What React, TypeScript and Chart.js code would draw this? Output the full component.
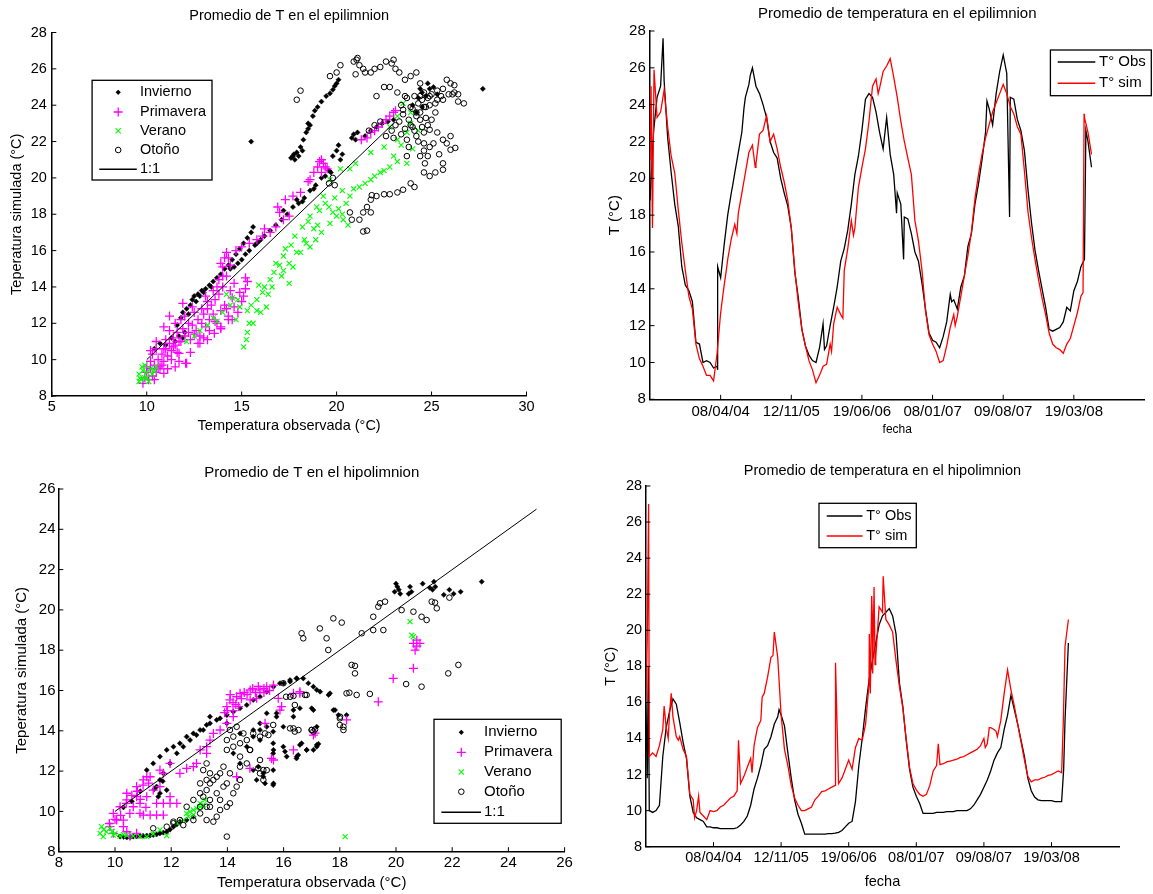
import React, { useEffect, useRef } from "react";
import { Chart, registerables } from "chart.js";

Chart.register(...registerables);

const FONT = "'Liberation Sans', Arial, Helvetica, sans-serif";
const MAGENTA = "#ff00ff";
const GREEN = "#00ff00";

// ---------------- time axis ----------------
const fechaLabels = ["08/04/04", "12/11/05", "19/06/06", "08/01/07", "09/08/07", "19/03/08"];
const STEP = 0.05; // spacing of the sampled series along the date axis

// ---------------- epilimnion series ----------------
const epiObs = [
  18.8, 22.5, 24.4, 25.0, 25.3, 22.2, 20.3, 18.6, 17.4, 15.2, 14.2, 13.9, 13.3, 11.1, 11.0, 10.0, 10.1, 10.0, 9.7, 9.8,
  14.6, 16.4, 18.0, 19.2, 20.3, 21.4, 22.5, 24.4, 25.1, 26.0, 25.0, 24.6, 24.0, 23.3, 22.0, 21.4, 21.1, 20.0, 19.2, 18.5,
  17.3, 14.9, 13.5, 11.8, 10.9, 10.4, 10.1, 10.0, 10.8, 12.1, 10.9, 12.0, 13.0, 14.1, 15.5, 16.2, 17.2, 18.6, 20.2, 21.2,
  22.6, 24.3, 24.6, 24.4, 23.6, 22.5, 21.6, 23.3, 21.3, 20.2, 19.2, 18.6, 17.9, 17.8, 17.0, 16.0, 15.5, 14.3, 12.9, 11.6,
  11.2, 11.1, 10.8, 11.4, 12.2, 13.7, 13.4, 12.9, 14.1, 14.7, 16.3, 17.0, 18.6, 19.7, 21.0, 22.5, 23.8, 22.9, 24.6, 25.8,
  26.7, 25.7, 24.4, 24.3, 23.2, 22.6, 21.5, 19.4, 17.6, 16.1, 15.0, 14.0, 13.0, 11.8, 11.7, 11.8, 11.9, 12.2, 13.0, 12.8,
  13.9, 14.4, 15.2, 15.6, 22.0, 20.6,
];
const epiObsSpikes = [
  [0.185, 27.6], [0.955, 9.6], [0.96, 15.2], [1.17, 19.6], [1.33, 23.8], [1.42, 25.6], [2.47, 10.7],
  [3.49, 18.1], [3.59, 15.6], [4.27, 13.3], [4.77, 24.2], [5.09, 17.9], [6.17, 22.6],
];
const epiSim = [
  21.0, 23.0, 23.3, 23.6, 24.8, 22.8, 21.2, 20.3, 18.3, 16.5, 15.0, 13.6, 12.9, 11.0, 10.2, 9.8, 9.3, 9.3, 9.0, 10.5,
  12.7, 14.2, 15.6, 16.7, 17.5, 18.1, 19.2, 20.3, 21.4, 21.8, 20.8, 22.4, 22.6, 23.4, 22.0, 22.4, 21.6, 20.6, 19.8, 18.8,
  17.3, 15.0, 13.2, 11.8, 10.9, 10.1, 9.6, 8.9, 9.3, 9.8, 9.9, 11.0, 12.1, 13.0, 12.6, 15.0, 16.2, 17.7, 17.3, 19.5,
  20.6, 21.6, 23.1, 25.0, 25.4, 24.9, 25.8, 26.1, 26.5, 25.5, 24.4, 23.1, 22.0, 21.1, 20.2, 17.7, 16.6, 15.0, 12.8, 11.5,
  11.0, 10.6, 10.0, 10.1, 10.9, 11.9, 12.6, 12.5, 13.6, 14.7, 15.8, 17.1, 18.9, 20.2, 21.3, 22.2, 22.9, 23.6, 24.1, 24.6,
  25.1, 24.6, 23.9, 23.5, 22.8, 22.4, 20.4, 18.2, 16.8, 15.6, 14.5, 13.5, 12.6, 11.6, 11.0, 10.8, 10.7, 10.5, 11.0, 11.3,
  12.0, 12.7, 13.6, 23.3, 22.5, 21.3,
];
const epiSimSpikes = [
  [0.015, 25.0], [0.035, 17.3], [0.057, 25.9], [1.08, 15.0], [1.23, 17.0], [1.49, 20.6], [2.57, 10.6],
  [2.73, 12.4], [2.88, 16.9], [3.23, 24.6], [4.32, 12.0], [6.13, 13.8], [6.145, 23.5],
];

// ---------------- hipolimnion series ----------------
const hipoObs = [
  16.0, 10.0, 9.9, 10.0, 10.3, 13.0, 14.6, 15.5, 16.2, 15.9, 14.9, 13.8, 12.9, 10.8, 9.9, 9.6, 9.5, 9.4, 9.1, 9.1,
  9.05, 9.05, 9.0, 9.0, 9.0, 9.0, 9.0, 9.05, 9.2, 9.4, 9.7, 10.3, 11.2, 11.8, 12.5, 13.4, 13.6, 14.1, 14.8, 15.2,
  15.3, 14.7, 13.2, 11.8, 10.6, 9.8, 9.3, 8.7, 8.7, 8.7, 8.7, 8.7, 8.7, 8.7, 8.72, 8.72, 8.75, 8.8, 8.9, 9.1,
  9.3, 9.4, 10.5, 12.5, 14.0, 15.7, 17.2, 18.3, 19.3, 20.3, 20.8, 21.0, 21.2, 20.8, 19.8, 17.1, 15.8, 13.9, 12.3, 11.3,
  10.8, 10.4, 9.85, 9.85, 9.85, 9.85, 9.9, 9.9, 9.9, 9.95, 9.95, 9.95, 10.0, 10.0, 10.0, 10.0, 10.1, 10.3, 10.6, 10.9,
  11.3, 11.7, 12.2, 12.8, 13.2, 13.5, 14.5, 15.3, 16.4, 15.6, 14.8, 13.9, 13.0, 11.8, 11.1, 10.75, 10.6, 10.55, 10.55, 10.55,
  10.55, 10.5, 10.5, 10.5, 15.0, 19.3,
];
const hipoObsSpikes = [
  [0.02, 11.8], [0.035, 18.0], [1.97, 15.6], [6.18, 12.3],
];
const hipoSim = [
  16.0, 13.0, 13.2, 13.0, 13.6, 14.5, 14.6, 15.4, 15.2, 14.1, 14.1, 13.4, 13.0, 10.9, 10.6, 10.0, 9.9, 9.7, 9.5, 10.0,
  9.95, 10.0, 10.2, 10.3, 10.5, 10.7, 10.8, 11.1, 11.5, 11.9, 12.4, 12.9, 13.6, 14.6, 15.0, 16.5, 17.4, 18.5, 19.9, 18.5,
  15.3, 13.4, 12.5, 11.4, 10.7, 10.3, 10.0, 10.0, 10.1, 10.2, 10.6, 10.8, 11.05, 11.1, 11.2, 11.3, 11.4, 11.5, 11.8, 12.3,
  12.8, 12.3, 13.5, 14.0, 13.9, 14.8, 17.0, 20.8, 18.5, 21.3, 21.0, 20.6, 20.3, 19.9, 18.3, 16.9, 15.7, 14.0, 12.4, 11.5,
  11.15, 10.9, 10.8, 10.9, 11.4, 12.2, 12.5, 12.55, 12.6, 12.7, 12.75, 12.8, 12.85, 12.95, 13.0, 13.1, 13.2, 13.3, 13.4, 13.6,
  14.0, 13.7, 14.6, 14.5, 14.1, 15.0, 16.5, 17.8, 16.7, 15.8, 14.8, 13.8, 12.8, 11.9, 11.6, 11.7, 11.7, 11.8, 11.85, 11.95,
  12.0, 12.1, 12.2, 12.1, 19.1, 20.6,
];
const hipoSimSpikes = [
  [0.02, 19.5], [0.04, 27.0], [0.27, 15.8], [0.33, 14.0], [0.375, 16.5], [0.48, 13.9], [0.72, 9.6], [0.78, 10.8],
  [1.37, 13.9], [1.57, 12.1], [1.72, 16.3], [1.88, 18.6], [2.805, 18.2], [3.305, 19.8], [3.32, 16.5],
  [3.34, 21.9], [3.355, 17.6], [3.375, 22.4], [3.39, 18.1], [3.51, 23.0], [4.325, 13.7], [5.02, 13.5],
  [5.08, 14.6], [5.18, 14.4], [6.175, 15.0],
];

// ---------------- scatter: epilimnion ----------------
const epiInvierno = [
  [17.6, 21.1], [17.7, 21.2], [17.75, 21.3], [17.8, 21.0], [17.9, 21.4], [18.0, 21.2], [18.1, 21.7], [18.2, 21.5],
  [18.25, 22.1], [18.4, 22.5], [18.5, 22.7], [18.5, 23.0], [18.6, 22.9], [18.75, 23.4], [18.85, 23.7], [19.0, 23.9],
  [19.2, 24.2], [19.45, 24.5], [19.65, 24.65], [19.8, 24.85], [19.9, 25.05], [20.0, 25.2], [20.1, 25.4],
  [15.5, 22.0], [27.7, 24.9],
  [10.4, 10.6], [10.7, 10.9], [11.0, 10.8], [11.3, 11.2], [11.5, 11.0], [11.7, 11.3], [11.9, 11.2], [12.0, 11.5],
  [11.6, 11.9], [11.8, 12.3], [11.9, 12.6], [12.1, 12.8], [12.2, 12.5], [12.3, 13.0], [12.4, 13.3], [12.5, 13.5],
  [12.6, 13.2], [12.7, 13.6], [12.9, 13.8], [13.1, 13.9], [13.3, 14.1], [13.5, 14.3], [13.7, 14.5], [13.9, 14.7],
  [14.1, 15.0], [14.3, 15.2], [14.5, 15.5], [14.7, 15.8], [14.9, 16.1], [15.1, 16.4], [15.3, 16.7], [15.5, 17.0],
  [15.6, 17.3], [14.6, 15.1], [14.8, 15.3], [15.0, 15.5], [15.2, 15.8], [15.4, 16.0], [15.7, 16.3], [15.9, 16.5],
  [16.2, 16.8], [16.5, 17.1], [16.8, 17.4], [17.1, 17.7], [17.4, 18.0], [17.7, 18.4], [17.9, 18.8], [17.2, 18.2],
  [18.3, 18.9], [18.6, 19.3], [18.9, 19.6], [19.2, 20.0], [19.6, 20.4], [18.0, 18.6], [18.2, 18.7], [18.8, 19.4],
  [19.4, 20.1], [19.7, 20.3], [12.8, 13.5], [13.0, 13.7], [13.4, 14.0], [14.4, 15.0], [15.8, 16.4], [16.0, 16.6],
  [19.8, 21.2], [20.0, 21.5], [20.1, 21.8], [20.3, 21.3], [20.2, 21.0], [20.8, 22.2], [20.9, 22.4], [21.0, 22.1],
  [21.1, 22.5], [21.5, 22.3], [21.8, 22.6], [22.1, 22.8], [22.4, 23.0], [22.7, 23.1], [23.0, 23.2],
  [24.3, 24.4], [24.5, 24.7], [24.7, 24.5], [24.9, 24.9], [25.1, 25.0], [25.3, 24.6], [24.4, 24.9], [24.8, 25.2],
  [24.2, 23.6], [24.5, 23.9], [24.0, 24.0],
];
const epiPrimavera = [
  [9.8, 8.7], [9.9, 9.0], [10.0, 9.3], [10.1, 8.9], [10.2, 9.5], [10.3, 9.1], [10.4, 9.7], [10.5, 9.3], [10.6, 10.0],
  [10.7, 9.6], [10.8, 10.3], [10.9, 9.9], [11.0, 10.6], [11.1, 10.2], [11.2, 10.9], [11.3, 10.5], [11.4, 11.2],
  [11.5, 10.8], [11.6, 11.5], [11.7, 9.9], [11.8, 11.0], [11.9, 11.7], [12.0, 11.3], [12.1, 9.8], [12.2, 11.5],
  [12.3, 11.1], [12.4, 11.9], [12.6, 11.6], [12.7, 12.2], [12.8, 11.3], [12.9, 12.0], [13.0, 12.5], [13.1, 11.8],
  [13.2, 12.8], [13.3, 12.2], [13.4, 13.0], [13.5, 12.5], [13.6, 13.3], [13.7, 12.0], [13.8, 13.6], [13.9, 12.7],
  [14.0, 14.0], [14.1, 13.0], [14.2, 14.6], [14.3, 12.4], [14.4, 15.2], [14.5, 13.4], [14.1, 15.6], [14.6, 12.9],
  [15.1, 13.5], [15.2, 13.9], [15.3, 14.3], [14.9, 13.7], [10.2, 10.5], [10.5, 11.0], [10.9, 11.8], [11.2, 12.4],
  [11.5, 12.0], [11.9, 13.1], [12.4, 12.9], [13.1, 13.5], [13.7, 14.0], [14.0, 14.6], [10.4, 8.9], [10.9, 9.25],
  [11.5, 9.6], [12.05, 9.8], [11.7, 10.35], [12.8, 10.9], [13.2, 11.1], [13.56, 11.45], [13.9, 11.8], [14.3, 12.2],
  [10.0, 9.6], [10.2, 9.9], [10.3, 10.3], [10.5, 10.6], [10.6, 9.5], [10.8, 9.7], [10.9, 10.6], [11.0, 11.1],
  [11.1, 9.5], [11.2, 11.6], [11.3, 10.0], [11.4, 10.7], [11.6, 10.4], [11.7, 11.0], [11.8, 12.2], [12.0, 12.4],
  [12.2, 12.0], [12.3, 10.4], [12.5, 11.4], [12.5, 12.6], [12.7, 10.9], [12.9, 12.8], [13.0, 11.2], [13.2, 13.2],
  [13.3, 11.6], [13.5, 13.8], [13.6, 12.1], [13.8, 14.4], [13.9, 11.7], [14.0, 15.1], [14.2, 12.8], [14.3, 15.6],
  [14.4, 13.8], [14.5, 12.2], [14.6, 14.2], [14.8, 12.6], [15.0, 13.2], [15.2, 14.5], [14.2, 15.9], [13.9, 15.3],
  [14.7, 16.0], [15.0, 16.2], [15.4, 16.4], [15.8, 16.6], [16.1, 16.8], [16.5, 17.0], [16.8, 17.3], [17.2, 17.7],
  [17.5, 17.9], [16.2, 17.2], [16.9, 18.4], [17.3, 18.8], [17.7, 19.0], [18.1, 19.2], [17.0, 18.1],
  [18.5, 19.8], [18.6, 19.9], [18.8, 20.3], [19.0, 20.6], [19.1, 20.9], [19.2, 21.0], [19.3, 20.8], [19.4, 20.6],
  [19.5, 20.5], [19.2, 20.3], [21.3, 22.1], [21.6, 22.2], [21.8, 22.5], [22.0, 22.6], [22.2, 22.8], [22.4, 23.0],
  [22.6, 23.2], [22.8, 23.4], [23.0, 23.6], [23.1, 23.7],
];
const epiVerano = [
  [9.6, 9.2], [9.7, 8.9], [9.8, 9.4], [9.9, 9.0], [10.0, 9.3], [10.1, 8.8], [9.75, 9.6], [10.2, 9.5], [9.65, 9.0],
  [10.3, 9.2], [9.9, 9.7], [10.4, 9.4], [9.6, 8.8], [10.0, 9.0], [10.5, 9.6],
  [12.1, 11.0], [12.5, 11.3], [12.8, 11.6], [13.2, 11.9], [13.5, 12.3], [13.7, 12.1], [14.0, 12.6], [14.2, 13.6],
  [14.5, 13.4], [14.7, 12.2], [14.9, 12.9], [15.1, 10.7], [15.3, 11.5], [15.25, 11.1], [15.4, 12.0], [15.3, 12.7],
  [15.6, 12.0], [15.8, 13.3], [15.8, 12.7], [16.0, 12.6], [16.1, 13.7], [16.3, 12.9], [16.5, 14.4], [16.6, 14.0],
  [16.8, 15.3], [17.1, 14.6], [17.2, 14.9], [17.2, 15.7], [17.5, 15.3], [17.5, 14.2], [17.7, 15.1], [17.9, 15.9],
  [18.1, 15.9], [18.3, 16.6], [18.4, 16.4], [18.6, 16.2], [18.8, 17.2], [18.9, 16.6], [19.0, 17.4], [19.2, 17.0],
  [19.65, 17.5], [20.0, 17.9], [20.35, 17.7], [19.8, 18.1], [20.7, 19.0], [21.2, 19.5], [21.8, 19.9], [22.3, 20.3],
  [22.8, 20.6], [23.2, 20.9], [23.7, 20.8], [23.7, 22.5], [23.2, 22.1], [22.5, 21.7], [21.8, 21.4], [21.0, 20.8],
  [20.7, 20.5], [20.2, 20.5], [19.65, 19.9], [19.3, 19.0], [18.95, 18.4], [18.6, 17.9], [23.5, 24.1], [23.2, 23.4],
  [23.9, 23.0], [24.0, 21.6], [22.8, 22.8], [20.5, 18.6], [19.9, 18.9], [20.3, 19.3], [21.5, 19.7], [22.0, 20.1],
  [20.6, 17.4], [19.6, 18.4], [14.4, 13.0], [14.8, 13.3], [15.5, 13.0], [15.9, 14.1], [16.2, 14.0], [16.4, 13.6],
  [16.7, 14.8], [17.0, 15.2], [17.3, 16.1], [17.6, 16.3], [17.8, 16.8], [18.2, 17.3], [18.5, 17.6], [19.1, 18.2],
  [19.4, 18.6], [20.1, 18.3], [20.3, 18.0], [20.9, 19.4], [22.5, 20.4], [23.0, 21.2], [23.4, 21.8], [24.3, 22.6],
  [23.9, 23.6],
];
const epiOtono = [
  [17.9, 24.3], [18.1, 24.8], [19.65, 25.6], [20.0, 25.8], [20.2, 26.2], [21.05, 26.5], [21.2, 26.2], [21.4, 26.0],
  [21.8, 25.8], [22.3, 26.1], [22.6, 26.4], [23.0, 26.5], [23.3, 25.8], [23.9, 25.6], [24.2, 25.8], [24.4, 25.2],
  [24.6, 24.7], [24.9, 24.5], [25.3, 24.3], [25.6, 24.9], [26.0, 25.2], [26.2, 24.7], [26.4, 24.2], [22.5, 25.0],
  [22.8, 25.0], [22.1, 24.5], [23.2, 24.7], [23.5, 23.75], [23.9, 23.9], [24.2, 23.6], [24.0, 22.8], [24.4, 23.2],
  [24.7, 23.9], [24.6, 22.5], [24.9, 22.65], [25.3, 22.5], [25.6, 22.1], [26.0, 22.3], [24.9, 21.7], [24.6, 21.9],
  [24.2, 22.3], [23.7, 22.1], [24.4, 21.2], [24.65, 20.8], [24.6, 20.3], [24.9, 20.1], [25.6, 20.45], [26.0, 21.55],
  [23.7, 21.2], [24.1, 19.5], [23.9, 19.7], [23.5, 19.35], [23.2, 19.2], [22.8, 19.1], [22.5, 19.1], [22.1, 19.0],
  [21.8, 18.8], [21.6, 18.4], [21.8, 18.1], [21.4, 18.1], [21.2, 17.7], [21.6, 17.1], [21.4, 17.05], [20.7, 18.1],
  [20.8, 17.7], [21.85, 19.05], [26.7, 24.1], [26.25, 21.65], [25.2, 20.3], [25.6, 20.8], [24.8, 21.2],
  [23.5, 23.5], [23.8, 23.2], [24.0, 23.8], [24.2, 23.4], [24.4, 23.6], [24.6, 23.9], [24.3, 24.1], [23.9, 22.9],
  [24.1, 22.6], [24.5, 22.8], [24.7, 23.3], [23.6, 22.7], [23.3, 23.1], [24.8, 24.4], [25.0, 24.6], [25.3, 24.8],
  [23.1, 22.9], [22.9, 22.6], [23.4, 22.4], [19.6, 19.7], [19.8, 20.0], [19.9, 19.6], [22.0, 22.9], [22.3, 23.1],
  [21.7, 22.6], [25.8, 25.4], [25.5, 24.5], [26.1, 24.6], [26.4, 24.6], [23.4, 24.0], [23.7, 24.4], [24.1, 24.5],
  [24.5, 24.3], [24.9, 24.0], [25.2, 23.6], [25.0, 23.2], [24.8, 22.9], [24.3, 22.0], [23.8, 21.7], [24.6, 21.5],
  [25.1, 21.9], [25.4, 21.3], [25.8, 21.9], [25.2, 24.1], [25.6, 24.3], [25.9, 24.6], [26.2, 25.1], [23.0, 22.2],
  [22.6, 22.3], [23.6, 24.5], [24.4, 24.5], [20.9, 26.4], [21.1, 26.6], [21.5, 25.8], [22.0, 26.0], [22.9, 26.3],
  [23.1, 26.0], [23.6, 25.4], [21.0, 25.7],
];
const epiOneToOne = [[10, 10], [23, 23]];

// ---------------- scatter: hipolimnion ----------------
const hipoInvierno = [
  [20.0, 21.3], [20.1, 21.0], [20.15, 20.8], [19.95, 20.9], [20.5, 21.15], [20.55, 20.9], [20.95, 21.3], [21.2, 21.1],
  [21.35, 21.4], [21.4, 21.15], [21.3, 21.0], [21.9, 21.0], [22.05, 20.8], [21.7, 20.75], [22.3, 20.9], [23.05, 21.4],
  [20.45, 20.8], [20.05, 21.15],
  [16.0, 16.36], [16.23, 16.52], [16.46, 16.6], [16.7, 16.6], [16.88, 16.36], [17.06, 16.19], [17.18, 16.03],
  [17.3, 15.94], [17.65, 15.86], [17.6, 15.78], [17.83, 15.03], [17.95, 14.78], [18.24, 14.78], [16.58, 15.12],
  [17.0, 15.12], [15.75, 14.87], [16.35, 14.7], [17.18, 14.2], [15.99, 14.2], [15.63, 13.96], [15.16, 14.04],
  [15.4, 14.2], [14.92, 13.71], [15.63, 13.38], [15.99, 13.21], [16.05, 12.97], [16.58, 13.3], [16.64, 13.38],
  [16.82, 13.05], [17.06, 13.05], [17.18, 13.3], [17.24, 13.35], [16.52, 12.8], [16.46, 12.63], [15.63, 12.88],
  [15.63, 12.05], [15.28, 11.89], [15.04, 11.56], [15.63, 11.31], [15.34, 11.39], [15.1, 12.22],
  [11.6, 11.56], [11.72, 11.89], [11.96, 12.38], [12.2, 12.88], [12.43, 13.21], [12.67, 13.54], [12.9, 13.79],
  [13.14, 14.04], [13.38, 14.37], [13.62, 14.54], [13.74, 14.62], [13.98, 14.78], [14.21, 14.95], [14.45, 15.12],
  [14.69, 15.28], [14.92, 15.53], [15.16, 15.69], [15.4, 15.94], [15.64, 16.19], [15.87, 16.36], [16.23, 16.44],
  [16.47, 16.6], [17.77, 15.03], [17.06, 15.03], [16.35, 15.03], [15.75, 14.7], [15.4, 14.87], [15.16, 14.37],
  [14.92, 14.04], [15.16, 13.54], [15.64, 13.05], [16.11, 12.72], [16.47, 12.72], [16.82, 13.05], [17.18, 13.21],
  [15.64, 11.39], [15.28, 11.72], [14.92, 12.05], [14.45, 12.38], [14.21, 12.88], [14.69, 13.21], [14.45, 13.87],
  [13.98, 14.37], [13.38, 14.7],
  [10.3, 10.2], [10.6, 10.5], [10.9, 11.0], [11.13, 12.05], [11.36, 12.38], [11.6, 12.72], [11.84, 13.05],
  [12.08, 13.21], [12.31, 13.38], [12.55, 13.71], [12.79, 13.87], [13.03, 14.04], [13.26, 14.29],
  [10.18, 8.75], [10.42, 8.71], [10.65, 8.75], [10.89, 8.78], [11.13, 8.8], [11.36, 8.83], [11.6, 8.91],
  [11.84, 8.99], [12.08, 9.24], [12.31, 9.49], [12.55, 9.57], [12.79, 9.74], [10.3, 8.73], [10.55, 8.72],
  [10.77, 8.76], [11.0, 8.79], [11.25, 8.81], [11.48, 8.86], [11.72, 8.95], [11.96, 9.1], [12.2, 9.35],
  [11.48, 11.23], [11.6, 10.9], [11.54, 10.73], [11.84, 11.06], [11.7, 11.5], [11.4, 11.1],
];
const hipoPrimavera = [
  [9.94, 9.9], [10.18, 10.23], [10.42, 10.57], [10.77, 11.23], [11.01, 11.56], [11.25, 11.72], [11.6, 12.05],
  [11.6, 11.23], [11.96, 12.38], [11.36, 11.06], [11.13, 10.73], [10.89, 10.4], [10.65, 10.23], [10.53, 9.9],
  [10.3, 9.57], [10.89, 9.9], [11.01, 9.82], [11.25, 9.82], [11.48, 9.82], [11.72, 9.82], [11.48, 10.4],
  [11.72, 10.4], [11.96, 10.4], [12.2, 10.4], [11.96, 10.73], [10.42, 10.9], [13.26, 12.88], [12.9, 12.38],
  [12.55, 12.14], [13.03, 13.05], [13.26, 13.21], [13.5, 13.87], [13.74, 14.04], [13.98, 15.2], [14.09, 15.53],
  [14.33, 15.69], [14.45, 15.86], [14.81, 16.03], [15.16, 16.03], [15.4, 16.19], [15.64, 16.27], [14.81, 15.53],
  [15.04, 15.61], [14.21, 14.7], [13.98, 14.37], [13.38, 13.54], [12.79, 12.22], [12.31, 11.89], [11.72, 11.89],
  [11.13, 11.72], [10.77, 10.73], [10.06, 9.57], [9.82, 9.24], [10.3, 9.24], [9.94, 8.91], [10.42, 8.99],
  [10.77, 8.91], [10.53, 8.78], [15.87, 15.03], [16.35, 15.86], [16.58, 15.86], [15.64, 12.55], [14.33, 11.72],
  [17.06, 13.79], [18.24, 14.54], [19.9, 16.6], [19.37, 15.44], [20.62, 17.1], [20.62, 18.34], [20.74, 18.5],
  [20.85, 18.34], [20.74, 18.2], [20.68, 18.0], [17.12, 13.88], [16.35, 13.05], [15.57, 12.63], [15.34, 14.37],
  [15.93, 15.2], [15.81, 15.61], [16.58, 15.94], [14.8, 12.14], [14.0, 15.0], [14.2, 15.4], [13.9, 14.9],
  [14.6, 15.9], [14.3, 15.3], [15.0, 15.9], [15.3, 16.1], [14.1, 15.8], [14.5, 15.6], [14.7, 15.8], [14.9, 16.1],
  [15.1, 16.2], [15.3, 15.9], [15.5, 16.0], [14.4, 15.2], [14.2, 15.0], [10.6, 10.8], [10.8, 11.0], [11.0, 11.3],
  [11.2, 11.4], [10.4, 10.4], [10.9, 10.6], [10.2, 9.8], [10.0, 9.6], [9.8, 9.4], [11.1, 10.2],
];
const hipoVerano = [
  [9.47, 8.91], [9.7, 8.99], [9.58, 8.75], [9.94, 8.83], [10.18, 8.78], [10.42, 8.81], [10.65, 8.78], [10.89, 8.75],
  [11.13, 8.75], [9.82, 9.16], [9.52, 9.24], [11.84, 8.8], [11.6, 9.08], [11.36, 8.88], [9.6, 9.1], [9.9, 9.0],
  [10.0, 8.9], [10.3, 8.85], [12.55, 9.9], [12.67, 9.99], [12.79, 10.07], [12.91, 10.15], [13.03, 10.23],
  [13.14, 10.32], [12.79, 9.82], [12.61, 9.74], [12.43, 9.57], [12.2, 9.41], [13.03, 10.4], [13.2, 10.57],
  [18.19, 8.75], [20.5, 19.42], [20.56, 18.75], [20.62, 18.67],
];
const hipoOtono = [
  [19.43, 20.33], [19.61, 20.41], [19.37, 20.16], [19.19, 19.66], [17.77, 19.58], [17.29, 19.08], [18.07, 19.37],
  [16.64, 18.84], [16.7, 18.59], [17.53, 18.59], [17.59, 18.01], [18.78, 18.84], [19.19, 19.0], [19.55, 19.0],
  [20.2, 19.99], [20.62, 19.91], [20.91, 19.66], [21.09, 19.5], [21.27, 20.41], [21.39, 20.36], [21.45, 20.08],
  [21.9, 20.61], [22.22, 17.27], [21.86, 16.85], [20.36, 16.32], [20.91, 16.19], [18.42, 17.27], [18.54, 17.22],
  [18.54, 16.85], [18.34, 15.89], [18.6, 15.78], [19.07, 15.83], [16.82, 15.78], [16.35, 15.73], [16.09, 15.69],
  [16.4, 15.28], [17.0, 14.04], [17.06, 13.96], [16.4, 13.96], [16.23, 14.12], [18.0, 14.62], [18.0, 14.29],
  [18.13, 14.04], [15.63, 14.29], [15.34, 13.87], [15.46, 13.79], [15.1, 12.14], [15.28, 12.05], [14.8, 13.05],
  [13.03, 10.9], [13.14, 10.73], [13.26, 11.06], [13.38, 11.39], [13.5, 11.56], [13.62, 11.72], [13.74, 11.89],
  [13.03, 11.39], [13.26, 11.56], [13.62, 10.9], [13.74, 10.57], [13.98, 10.23], [14.09, 10.4], [14.21, 10.9],
  [14.33, 11.23], [14.45, 11.56], [13.98, 11.39], [14.09, 11.89], [13.98, 13.05], [14.21, 13.21], [14.45, 13.38],
  [13.98, 13.54], [14.21, 13.71], [14.09, 14.04], [14.33, 14.2], [14.57, 13.87], [14.69, 13.54], [13.86, 12.22],
  [14.45, 12.22], [14.69, 12.38], [14.92, 13.87], [15.16, 13.71], [14.81, 13.05], [13.38, 10.23], [13.03, 10.23],
  [12.79, 10.57], [12.55, 10.23], [12.31, 9.57], [12.08, 9.41], [12.43, 9.32], [13.26, 9.57], [13.5, 9.49],
  [13.62, 9.74], [13.74, 10.07], [13.14, 12.05], [13.38, 11.89], [13.26, 12.38], [13.98, 8.75], [15.16, 11.89],
  [15.4, 12.05], [15.28, 11.56], [13.03, 9.9], [12.79, 9.57], [15.16, 12.55], [14.45, 12.72], [13.26, 10.23],
  [13.86, 11.23], [13.38, 10.57], [15.99, 16.36], [16.23, 15.69], [16.76, 15.78], [16.35, 14.12], [16.53, 14.04],
  [17.0, 14.04], [17.12, 14.07], [18.01, 14.7], [18.13, 14.2], [18.24, 15.86], [11.36, 9.16], [11.84, 9.24],
  [12.08, 9.49],
];
const hipoOneToOne = [[10, 10], [25, 25]];

// ---------------- helpers ----------------
const toXY = (arr: number[][]) => arr.map(([x, y]) => ({ x, y }));
function seriesPoints(values: number[], spikes: number[][]) {
  const pts = values.map((v, i) => ({ x: Math.round(i * STEP * 1000) / 1000, y: v }));
  spikes.forEach(([x, y]) => pts.push({ x, y }));
  return pts.sort((a, b) => a.x - b.x);
}

function drawMarker(ctx: CanvasRenderingContext2D, kind: string, x: number, y: number) {
  ctx.save();
  ctx.beginPath();
  if (kind === "inv") {
    const r = 2.6;
    ctx.fillStyle = "#000";
    ctx.moveTo(x, y - r);
    ctx.lineTo(x + r, y);
    ctx.lineTo(x, y + r);
    ctx.lineTo(x - r, y);
    ctx.closePath();
    ctx.fill();
  } else if (kind === "pri") {
    const r = 4.5;
    ctx.strokeStyle = MAGENTA;
    ctx.lineWidth = 1.3;
    ctx.moveTo(x - r, y);
    ctx.lineTo(x + r, y);
    ctx.moveTo(x, y - r);
    ctx.lineTo(x, y + r);
    ctx.stroke();
  } else if (kind === "ver") {
    const r = 2.6;
    ctx.strokeStyle = GREEN;
    ctx.lineWidth = 1.1;
    ctx.moveTo(x - r, y - r);
    ctx.lineTo(x + r, y + r);
    ctx.moveTo(x - r, y + r);
    ctx.lineTo(x + r, y - r);
    ctx.stroke();
  } else if (kind === "oto") {
    ctx.strokeStyle = "#000";
    ctx.lineWidth = 1;
    ctx.arc(x, y, 2.8, 0, Math.PI * 2);
    ctx.stroke();
  }
  ctx.restore();
}

type LegendCfg = {
  box: number[];
  rows: number[];
  markerX: number;
  line: number[];
  textX: number;
  size: number;
  kinds: string[];
};

function legendPlugin(cfg: LegendCfg) {
  return {
    id: "boxLegend",
    afterDraw(chart: any) {
      const ctx: CanvasRenderingContext2D = chart.ctx;
      const [l, t, r, b] = cfg.box;
      ctx.save();
      ctx.fillStyle = "#fff";
      ctx.fillRect(l, t, r - l, b - t);
      ctx.strokeStyle = "#000";
      ctx.lineWidth = 1.3;
      ctx.strokeRect(l, t, r - l, b - t);
      ctx.font = `${cfg.size}px ${FONT}`;
      ctx.textBaseline = "middle";
      ctx.textAlign = "left";
      chart.data.datasets.forEach((ds: any, i: number) => {
        const y = cfg.rows[i];
        const kind = cfg.kinds[i];
        if (kind === "line") {
          ctx.beginPath();
          ctx.strokeStyle = ds.borderColor;
          ctx.lineWidth = 1.4;
          ctx.moveTo(cfg.line[0], y);
          ctx.lineTo(cfg.line[1], y);
          ctx.stroke();
        } else {
          drawMarker(ctx, kind, cfg.markerX, y);
        }
        ctx.fillStyle = "#000";
        ctx.fillText(ds.label, cfg.textX, y);
      });
      ctx.restore();
    },
  };
}

const inwardTicks = {
  id: "inwardTicks",
  afterDatasetsDraw(chart: any) {
    const { ctx, chartArea } = chart;
    const xs = chart.scales.x;
    const ys = chart.scales.y;
    ctx.save();
    ctx.strokeStyle = "#000";
    ctx.lineWidth = 1;
    ctx.beginPath();
    xs.ticks.forEach((t: any) => {
      const px = xs.getPixelForValue(t.value);
      ctx.moveTo(px, chartArea.bottom);
      ctx.lineTo(px, chartArea.bottom - 4.5);
    });
    ys.ticks.forEach((t: any) => {
      const py = ys.getPixelForValue(t.value);
      ctx.moveTo(chartArea.left, py);
      ctx.lineTo(chartArea.left + 4.5, py);
    });
    ctx.stroke();
    ctx.restore();
  },
};

type AxisOpt = {
  min: number;
  max: number;
  step: number;
  tickSize: number;
  tickPad: number;
  title: string;
  titleSize: number;
  titlePad: number;
  fit: number;
  dates?: boolean;
};

function xAxis(o: AxisOpt) {
  const cfg: any = {
    type: "linear",
    position: "bottom",
    min: o.min,
    max: o.max,
    ticks: {
      stepSize: o.step,
      color: "#000",
      padding: o.tickPad,
      maxRotation: 0,
      autoSkip: false,
      font: { family: FONT, size: o.tickSize },
    },
    grid: { display: false, drawTicks: false },
    border: { display: true, color: "#000", width: 1.5 },
    title: {
      display: true,
      text: o.title,
      color: "#000",
      font: { family: FONT, size: o.titleSize },
      padding: { top: 0, bottom: o.titlePad },
    },
    afterFit: (s: any) => {
      s.height = o.fit;
    },
  };
  if (o.dates) {
    cfg.afterBuildTicks = (s: any) => {
      s.ticks = fechaLabels.map((_, i) => ({ value: i + 1 }));
    };
    cfg.ticks.callback = (v: any) => fechaLabels[Number(v) - 1] ?? "";
  }
  return cfg;
}

function yAxis(o: AxisOpt) {
  return {
    type: "linear",
    position: "left",
    min: o.min,
    max: o.max,
    ticks: {
      stepSize: o.step,
      color: "#000",
      padding: o.tickPad,
      font: { family: FONT, size: o.tickSize },
    },
    grid: { display: false, drawTicks: false },
    border: { display: true, color: "#000", width: 1.5 },
    title: {
      display: true,
      text: o.title,
      color: "#000",
      font: { family: FONT, size: o.titleSize },
      padding: { top: o.titlePad, bottom: 0 },
    },
    afterFit: (s: any) => {
      s.width = o.fit;
    },
  };
}

function titleCfg(text: string, size: number, top: number, bottom: number) {
  return {
    display: true,
    text,
    color: "#000",
    fullSize: false,
    font: { family: FONT, size, weight: "normal" },
    padding: { top, bottom },
  };
}

function scatterDatasets(inv: number[][], pri: number[][], ver: number[][], oto: number[][], line: number[][]) {
  return [
    {
      label: "Invierno",
      data: toXY(inv),
      pointStyle: "rectRot",
      pointRadius: 2.6,
      backgroundColor: "#000",
      borderColor: "#000",
      borderWidth: 0.5,
      order: 4,
    },
    {
      label: "Primavera",
      data: toXY(pri),
      pointStyle: "cross",
      pointRadius: 4.5,
      borderColor: MAGENTA,
      backgroundColor: MAGENTA,
      borderWidth: 1.3,
      order: 3,
    },
    {
      label: "Verano",
      data: toXY(ver),
      pointStyle: "crossRot",
      pointRadius: 3.6,
      borderColor: GREEN,
      backgroundColor: GREEN,
      borderWidth: 1.1,
      order: 2,
    },
    {
      label: "Otoño",
      data: toXY(oto),
      pointStyle: "circle",
      pointRadius: 2.8,
      borderColor: "#000",
      backgroundColor: "rgba(0,0,0,0)",
      borderWidth: 1,
      order: 1,
    },
    {
      label: "1:1",
      data: toXY(line),
      showLine: true,
      pointRadius: 0,
      borderColor: "#000",
      borderWidth: 1,
      order: 0,
    },
  ];
}

function timeDatasets(obs: any[], sim: any[]) {
  return [
    {
      label: "T° Obs",
      data: obs,
      borderColor: "#000",
      borderWidth: 1.3,
      pointRadius: 0,
      tension: 0,
      order: 1,
    },
    {
      label: "T° sim",
      data: sim,
      borderColor: "#ff0000",
      borderWidth: 1.3,
      pointRadius: 0,
      tension: 0,
      order: 0,
    },
  ];
}

const baseOptions = {
  responsive: false,
  animation: false,
  devicePixelRatio: 1,
  events: [],
};

// ---------------- chart configs ----------------
function configTL() {
  return {
    type: "scatter",
    data: { datasets: scatterDatasets(epiInvierno, epiPrimavera, epiVerano, epiOtono, epiOneToOne) },
    options: {
      ...baseOptions,
      layout: { padding: { left: 0, top: 0, right: 33.5, bottom: 0 } },
      plugins: {
        legend: { display: false },
        tooltip: { enabled: false },
        title: titleCfg("Promedio de T en el epilimnion", 14.5, 7.6, 7.5),
      },
      scales: {
        x: xAxis({ min: 5, max: 30, step: 5, tickSize: 14.5, tickPad: 2.6, title: "Temperatura observada (°C)", titleSize: 14.5, titlePad: 10.3, fit: 49 }),
        y: yAxis({ min: 8, max: 28, step: 2, tickSize: 14.5, tickPad: 5, title: "Teperatura simulada (°C)", titleSize: 14.5, titlePad: 8.1, fit: 51.8 }),
      },
    },
    plugins: [
      inwardTicks,
      legendPlugin({
        box: [92.1, 80.3, 212, 180],
        rows: [92.3, 112, 130.7, 150, 169.3],
        markerX: 118.2,
        line: [99.3, 136.8],
        textX: 140,
        size: 14.5,
        kinds: ["inv", "pri", "ver", "oto", "line"],
      }),
    ],
  };
}

function configTR() {
  return {
    type: "line",
    data: { datasets: timeDatasets(seriesPoints(epiObs, epiObsSpikes), seriesPoints(epiSim, epiSimSpikes)) },
    options: {
      ...baseOptions,
      layout: { padding: { left: 0, top: 0, right: 8.5, bottom: 0 } },
      plugins: {
        legend: { display: false },
        tooltip: { enabled: false },
        title: titleCfg("Promedio de temperatura en el epilimnion", 15, 5, 8),
      },
      scales: {
        x: xAxis({ min: 0, max: 7, step: 1, tickSize: 15, tickPad: 3.4, title: "fecha", titleSize: 12, titlePad: 7.8, fit: 45.7, dates: true }),
        y: yAxis({ min: 8, max: 28, step: 2, tickSize: 15, tickPad: 4.2, title: "T (°C)", titleSize: 15, titlePad: 25.7, fit: 70 }),
      },
    },
    plugins: [
      inwardTicks,
      legendPlugin({
        box: [470.4, 50, 571.3, 95.7],
        rows: [62, 83.3],
        markerX: 0,
        line: [477.7, 515.3],
        textX: 519,
        size: 15,
        kinds: ["line", "line"],
      }),
    ],
  };
}

function configBL() {
  return {
    type: "scatter",
    data: { datasets: scatterDatasets(hipoInvierno, hipoPrimavera, hipoVerano, hipoOtono, hipoOneToOne) },
    options: {
      ...baseOptions,
      layout: { padding: { left: 0, top: 0, right: 15.4, bottom: 0 } },
      plugins: {
        legend: { display: false },
        tooltip: { enabled: false },
        title: titleCfg("Promedio de T en el hipolimnion", 15, 13.7, 7.3),
      },
      scales: {
        x: xAxis({ min: 8, max: 26, step: 2, tickSize: 15, tickPad: 2.6, title: "Temperatura observada (°C)", titleSize: 15, titlePad: 2, fit: 42.3 }),
        y: yAxis({ min: 8, max: 26, step: 2, tickSize: 15, tickPad: 3.3, title: "Teperatura simulada (°C)", titleSize: 15, titlePad: 13.2, fit: 58.8 }),
      },
    },
    plugins: [
      inwardTicks,
      legendPlugin({
        box: [434, 269.3, 561.2, 373.3],
        rows: [282.3, 302.3, 322, 341.7, 362.3],
        markerX: 461.3,
        line: [441.4, 481],
        textX: 484,
        size: 15,
        kinds: ["inv", "pri", "ver", "oto", "line"],
      }),
    ],
  };
}

function configBR() {
  return {
    type: "line",
    data: { datasets: timeDatasets(seriesPoints(hipoObs, hipoObsSpikes), seriesPoints(hipoSim, hipoSimSpikes)) },
    options: {
      ...baseOptions,
      layout: { padding: { left: 0, top: 0, right: 33.9, bottom: 0 } },
      plugins: {
        legend: { display: false },
        tooltip: { enabled: false },
        title: titleCfg("Promedio de temperatura en el hipolimnion", 14.5, 12, 6.6),
      },
      scales: {
        x: xAxis({ min: 0, max: 7, step: 1, tickSize: 14.5, tickPad: 2.9, title: "fecha", titleSize: 14.5, titlePad: 3.6, fit: 47.3, dates: true }),
        y: yAxis({ min: 8, max: 28, step: 2, tickSize: 14.5, tickPad: 3.8, title: "T (°C)", titleSize: 14.5, titlePad: 22.3, fit: 65.9 }),
      },
    },
    plugins: [
      inwardTicks,
      legendPlugin({
        box: [239, 53.3, 336.3, 97.7],
        rows: [66, 86],
        markerX: 0,
        line: [246.7, 282.5],
        textX: 286.2,
        size: 14.5,
        kinds: ["line", "line"],
      }),
    ],
  };
}

function Panel(props: { left: number; top: number; width: number; height: number; make: () => any }) {
  const ref = useRef<HTMLCanvasElement | null>(null);
  useEffect(() => {
    if (!ref.current) return;
    const chart = new Chart(ref.current, props.make());
    return () => chart.destroy();
  }, []);
  return (
    <canvas
      ref={ref}
      width={props.width}
      height={props.height}
      style={{ position: "absolute", left: props.left, top: props.top, width: props.width, height: props.height }}
    />
  );
}

export default function App() {
  return (
    <div style={{ position: "absolute", left: 0, top: 0, width: 1153, height: 894, background: "#fff", overflow: "hidden" }}>
      <Panel left={0} top={0} width={560} height={445} make={configTL} />
      <Panel left={580} top={0} width={573} height={445} make={configTR} />
      <Panel left={0} top={450} width={580} height={444} make={configBL} />
      <Panel left={580} top={450} width={573} height={444} make={configBR} />
    </div>
  );
}
